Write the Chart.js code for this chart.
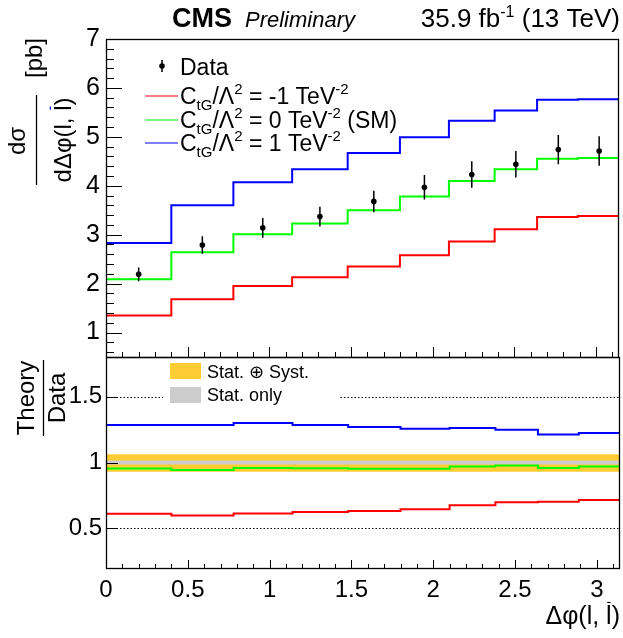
<!DOCTYPE html>
<html>
<head>
<meta charset="utf-8">
<script src="https://cdn.jsdelivr.net/npm/chart.js@4.4.0/dist/chart.umd.min.js"></script>
<style>
  body { margin: 0; background: #fff; }
  #wrap { position: relative; width: 623px; height: 638px; }
  canvas { position: absolute; left: 0; top: 0; }
</style>
</head>
<body>
<div id="wrap">
  <canvas id="topChart" width="623" height="638"></canvas>
  <canvas id="ratioChart" width="623" height="638"></canvas>
</div>
<script>
// binning in delta phi(l, lbar)
var binEdges = [0, 0.40, 0.78, 1.14, 1.48, 1.80, 2.10, 2.38, 2.64, 2.89, 3.1416];
var binCenters = [0.20, 0.59, 0.96, 1.31, 1.64, 1.95, 2.24, 2.51, 2.77, 3.02];

// measured cross section [pb] and total uncertainty
var dataVals = [2.19, 2.79, 3.14, 3.37, 3.68, 3.97, 4.23, 4.44, 4.74, 4.71];
var dataErr = [0.14, 0.18, 0.20, 0.20, 0.22, 0.25, 0.27, 0.27, 0.30, 0.30];

// predictions for CtG/Lambda^2 = -1, 0, 1 TeV^-2
var ctgMinus1 = [1.35, 1.68, 1.95, 2.13, 2.35, 2.58, 2.86, 3.11, 3.36, 3.38];
var ctgZero = [2.09, 2.64, 3.01, 3.23, 3.50, 3.78, 4.10, 4.34, 4.55, 4.57];
var ctgPlus1 = [2.83, 3.60, 4.07, 4.34, 4.67, 4.99, 5.33, 5.54, 5.76, 5.77];

// theory / data
var ratioMinus1 = [0.612, 0.599, 0.614, 0.624, 0.632, 0.645, 0.675, 0.698, 0.703, 0.716];
var ratioZero = [0.954, 0.944, 0.959, 0.957, 0.952, 0.952, 0.970, 0.977, 0.959, 0.970];
var ratioPlus1 = [1.284, 1.284, 1.300, 1.284, 1.270, 1.256, 1.261, 1.249, 1.213, 1.223];

// uncertainty bands in the ratio
var systUp = [1.062, 1.062, 1.062, 1.062, 1.062, 1.062, 1.062, 1.062, 1.062, 1.062];
var systDown = [0.930, 0.930, 0.930, 0.930, 0.930, 0.930, 0.930, 0.930, 0.930, 0.930];
var statUp = [1.015, 1.015, 1.015, 1.015, 1.015, 1.015, 1.015, 1.015, 1.015, 1.015];
var statDown = [0.985, 0.985, 0.985, 0.985, 0.985, 0.985, 0.985, 0.985, 0.985, 0.985];

var yTicksTop = [1, 2, 3, 4, 5, 6, 7];
var yTicksRatio = [0.5, 1, 1.5];
var xTicks = [0, 0.5, 1, 1.5, 2, 2.5, 3];

var FONT = '"Liberation Sans", Arial, Helvetica, sans-serif';
Chart.defaults.color = '#000';
Chart.defaults.font.family = FONT;

// histogram as a stepped line over the bin edges
function steps(vals) {
  return binEdges.map(function (e, i) {
    return { x: e, y: vals[Math.min(i, vals.length - 1)] };
  });
}

function stepLine(vals, color, order, width) {
  return {
    data: steps(vals), borderColor: color, borderWidth: width || 2,
    stepped: true, pointRadius: 0, fill: false, order: order
  };
}

function plainLabel(v) { return String(v); }

// text with sub/superscripts: parts = [{t, s, dy, f}]
function rich(ctx, x, y, parts, align) {
  var w = 0;
  parts.forEach(function (p) {
    ctx.font = (p.f || '') + ' ' + p.s + 'px ' + FONT;
    w += ctx.measureText(p.t).width;
  });
  var cx = x;
  if (align === 'right') cx = x - w;
  if (align === 'center') cx = x - w / 2;
  ctx.textAlign = 'left';
  ctx.textBaseline = 'alphabetic';
  parts.forEach(function (p) {
    ctx.font = (p.f || '') + ' ' + p.s + 'px ' + FONT;
    var tw = ctx.measureText(p.t).width;
    ctx.fillText(p.t, cx, y + (p.dy || 0));
    if (p.bar) {
      ctx.save();
      ctx.lineWidth = 1.2;
      ctx.beginPath();
      ctx.moveTo(cx + tw * 0.2, y - p.s * 0.86);
      ctx.lineTo(cx + tw * 0.8, y - p.s * 0.86);
      ctx.stroke();
      ctx.restore();
    }
    cx += tw;
  });
}

function inwardTicks(ctx, area, xs, ys, opt) {
  ctx.save();
  ctx.strokeStyle = '#000';
  ctx.lineWidth = 1;
  ctx.beginPath();
  var v;
  for (v = 0; v <= 3.14; v += 0.1) {
    var px = Math.round(xs.getPixelForValue(v)) + 0.5;
    var major = Math.abs(v * 2 - Math.round(v * 2)) < 1e-6;
    ctx.moveTo(px, area.bottom);
    ctx.lineTo(px, area.bottom - (major ? opt.xMajor : opt.xMinor));
  }
  opt.yMajorVals.forEach(function (t) {
    var py = Math.round(ys.getPixelForValue(t)) + 0.5;
    ctx.moveTo(area.left, py);
    ctx.lineTo(area.left + opt.yMajor, py);
  });
  (opt.yMinorVals || []).forEach(function (t) {
    var py = Math.round(ys.getPixelForValue(t)) + 0.5;
    ctx.moveTo(area.left, py);
    ctx.lineTo(area.left + opt.yMinor, py);
  });
  ctx.stroke();
  ctx.lineWidth = 1.3;
  ctx.strokeRect(area.left + 0.5, area.top + 0.5, area.right - area.left - 1, area.bottom - area.top);
  ctx.restore();
}

var topMinor = [];
for (var m = 6; m < 70; m += 2) { if (m % 10) topMinor.push(m / 10); }

var topDecor = {
  id: 'topDecor',
  afterDatasetsDraw: function (chart) {
    var ctx = chart.ctx, xs = chart.scales.x, ys = chart.scales.y;
    // error bars of the data points
    ctx.save();
    ctx.strokeStyle = '#000';
    ctx.lineWidth = 1.5;
    ctx.beginPath();
    binCenters.forEach(function (c, i) {
      var px = xs.getPixelForValue(c);
      ctx.moveTo(px, ys.getPixelForValue(dataVals[i] + dataErr[i]));
      ctx.lineTo(px, ys.getPixelForValue(dataVals[i] - dataErr[i]));
    });
    ctx.stroke();
    ctx.restore();
  },
  afterDraw: function (chart) {
    var ctx = chart.ctx, a = chart.chartArea;
    inwardTicks(ctx, a, chart.scales.x, chart.scales.y, {
      xMajor: 10, xMinor: 5, yMajor: 16, yMinor: 8,
      yMajorVals: yTicksTop, yMinorVals: topMinor
    });
    ctx.save();
    ctx.fillStyle = '#000';
    // header
    rich(ctx, 172, 27, [{ t: 'CMS', s: 27, f: 'bold' }]);
    rich(ctx, 245, 27, [{ t: 'Preliminary', s: 22, f: 'italic' }]);
    rich(ctx, 620, 27, [
      { t: '35.9 fb', s: 26 }, { t: '-1', s: 16, dy: -10 }, { t: ' (13 TeV)', s: 26 }
    ], 'right');

    // legend
    ctx.strokeStyle = '#000';
    ctx.lineWidth = 1.5;
    ctx.beginPath();
    ctx.moveTo(162, 60); ctx.lineTo(162, 72);
    ctx.stroke();
    ctx.beginPath();
    ctx.arc(162, 66, 2.8, 0, Math.PI * 2);
    ctx.fill();
    rich(ctx, 180, 75, [{ t: 'Data', s: 23 }]);
    var rows = [
      { c: '#ff0000', y: 104, v: '-1 TeV', tail: '' },
      { c: '#00ff00', y: 128, v: '0 TeV', tail: ' (SM)' },
      { c: '#0000ff', y: 151, v: '1 TeV', tail: '' }
    ];
    rows.forEach(function (r) {
      ctx.strokeStyle = r.c;
      ctx.lineWidth = 1.2;
      ctx.beginPath();
      ctx.moveTo(145, r.y - 8); ctx.lineTo(178, r.y - 8);
      ctx.stroke();
      rich(ctx, 180, r.y, [
        { t: 'C', s: 23 }, { t: 'tG', s: 15, dy: 6 }, { t: '/\u039B', s: 23 },
        { t: '2', s: 15, dy: -10 }, { t: ' = ' + r.v, s: 23 }, { t: '-2', s: 15, dy: -10 },
        { t: r.tail, s: 23 }
      ]);
    });

    // y title
    ctx.save();
    ctx.translate(25, 141); ctx.rotate(-Math.PI / 2);
    rich(ctx, 0, 0, [{ t: 'd\u03C3', s: 24 }], 'center');
    ctx.restore();
    ctx.save();
    ctx.translate(71, 140); ctx.rotate(-Math.PI / 2);
    rich(ctx, 0, 0, [{ t: 'd\u0394\u03C6(l, ', s: 24 }, { t: 'l', s: 24, bar: true }, { t: ')', s: 24 }], 'center');
    ctx.restore();
    ctx.save();
    ctx.translate(42, 58); ctx.rotate(-Math.PI / 2);
    rich(ctx, 0, 0, [{ t: '[pb]', s: 24 }], 'center');
    ctx.restore();
    ctx.lineWidth = 1.3;
    ctx.strokeStyle = '#000';
    ctx.beginPath();
    ctx.moveTo(36.5, 95); ctx.lineTo(36.5, 185);
    ctx.stroke();
    ctx.restore();
  }
};

new Chart(document.getElementById('topChart'), {
  type: 'line',
  data: {
    datasets: [
      {
        data: binCenters.map(function (c, i) { return { x: c, y: dataVals[i] }; }),
        showLine: false, pointRadius: 2.8, pointBackgroundColor: '#000',
        pointBorderWidth: 0, order: 0
      },
      stepLine(ctgMinus1, '#ff0000', 1),
      stepLine(ctgZero, '#00ff00', 2),
      stepLine(ctgPlus1, '#0000ff', 3)
    ]
  },
  options: {
    responsive: false, animation: false, events: [],
    layout: { padding: { top: 39, left: 0, right: 3, bottom: 281 } },
    plugins: { legend: { display: false }, tooltip: { enabled: false } },
    scales: {
      x: { type: 'linear', min: 0, max: Math.PI, display: false },
      y: {
        type: 'linear', min: 0.5, max: 7,
        afterFit: function (s) { s.width = 106; },
        afterBuildTicks: function (s) { s.ticks = yTicksTop.map(function (v) { return { value: v }; }); },
        grid: { display: false, drawTicks: false },
        border: { display: false },
        ticks: { font: { size: 25 }, color: '#000', padding: 6, callback: plainLabel }
      }
    }
  },
  plugins: [topDecor]
});

var ratioDecor = {
  id: 'ratioDecor',
  beforeDatasetsDraw: function (chart) {
    var ctx = chart.ctx, a = chart.chartArea, ys = chart.scales.y;
    ctx.save();
    ctx.strokeStyle = '#000';
    ctx.lineWidth = 1;
    ctx.setLineDash([1.5, 2]);
    ctx.beginPath();
    yTicksRatio.forEach(function (t) {
      var py = Math.round(ys.getPixelForValue(t)) + 0.5;
      ctx.moveTo(a.left, py); ctx.lineTo(a.right, py);
    });
    ctx.stroke();
    ctx.setLineDash([]);
    // legend box
    ctx.fillStyle = '#fff';
    ctx.fillRect(163, 359, 177, 50);
    ctx.fillStyle = '#ffcc33';
    ctx.fillRect(170, 363, 31, 16);
    ctx.fillStyle = '#cccccc';
    ctx.fillRect(170, 387, 31, 16);
    ctx.fillStyle = '#000';
    rich(ctx, 207, 378, [{ t: 'Stat. \u2295 Syst.', s: 18 }]);
    rich(ctx, 207, 401, [{ t: 'Stat. only', s: 18 }]);
    ctx.restore();
  },
  afterDraw: function (chart) {
    var ctx = chart.ctx, a = chart.chartArea;
    inwardTicks(ctx, a, chart.scales.x, chart.scales.y, {
      xMajor: 8, xMinor: 4, yMajor: 12, yMinor: 6,
      yMajorVals: yTicksRatio, yMinorVals: []
    });
    ctx.save();
    ctx.fillStyle = '#000';
    ctx.save();
    ctx.translate(34, 398); ctx.rotate(-Math.PI / 2);
    rich(ctx, 0, 0, [{ t: 'Theory', s: 24 }], 'center');
    ctx.restore();
    ctx.save();
    ctx.translate(65, 398); ctx.rotate(-Math.PI / 2);
    rich(ctx, 0, 0, [{ t: 'Data', s: 24 }], 'center');
    ctx.restore();
    ctx.lineWidth = 1.3;
    ctx.beginPath();
    ctx.moveTo(43.5, 360); ctx.lineTo(43.5, 436);
    ctx.stroke();
    rich(ctx, 620, 624, [{ t: '\u0394\u03C6(l, ', s: 25 }, { t: 'l', s: 25, bar: true }, { t: ')', s: 25 }], 'right');
    ctx.restore();
  }
};

new Chart(document.getElementById('ratioChart'), {
  type: 'line',
  data: {
    datasets: [
      stepLine(ratioMinus1, '#ff0000', 1),
      stepLine(ratioZero, '#00ff00', 1),
      stepLine(ratioPlus1, '#0000ff', 1),
      { data: steps(statUp), stepped: true, pointRadius: 0, borderWidth: 0, fill: false, order: 2 },
      { data: steps(statDown), stepped: true, pointRadius: 0, borderWidth: 0, fill: '-1', backgroundColor: '#cccccc', order: 2 },
      { data: steps(systUp), stepped: true, pointRadius: 0, borderWidth: 0, fill: false, order: 3 },
      { data: steps(systDown), stepped: true, pointRadius: 0, borderWidth: 0, fill: '-1', backgroundColor: '#ffcc33', order: 3 }
    ]
  },
  options: {
    responsive: false, animation: false, events: [],
    layout: { padding: { top: 357, left: 0, right: 3, bottom: 0 } },
    plugins: { legend: { display: false }, tooltip: { enabled: false } },
    scales: {
      x: {
        type: 'linear', min: 0, max: Math.PI,
        afterFit: function (s) { s.height = 70; },
        afterBuildTicks: function (s) { s.ticks = xTicks.map(function (v) { return { value: v }; }); },
        grid: { display: false, drawTicks: false },
        border: { display: false },
        ticks: { font: { size: 24 }, color: '#000', padding: 8, maxRotation: 0, callback: plainLabel }
      },
      y: {
        type: 'linear', min: 0.2, max: 1.8,
        afterFit: function (s) { s.width = 106; },
        afterBuildTicks: function (s) { s.ticks = yTicksRatio.map(function (v) { return { value: v }; }); },
        grid: { display: false, drawTicks: false },
        border: { display: false },
        ticks: { font: { size: 24 }, color: '#000', padding: 4, callback: plainLabel }
      }
    }
  },
  plugins: [ratioDecor]
});
</script>
</body>
</html>
